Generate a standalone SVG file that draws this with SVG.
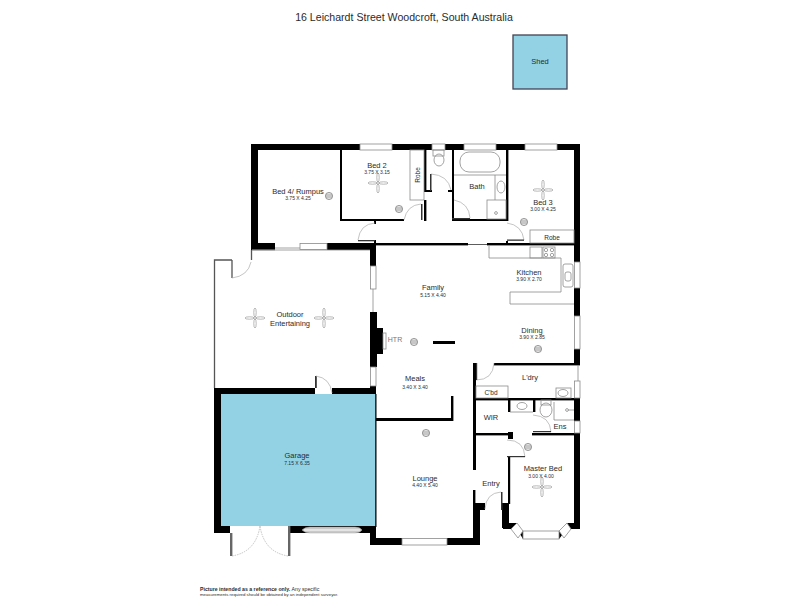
<svg xmlns="http://www.w3.org/2000/svg" width="800" height="600" viewBox="0 0 800 600">
<style>
text{font-family:"Liberation Sans",Arial,sans-serif;fill:#2b2b2b;text-anchor:middle}
.n{font-size:7.5px}.d{font-size:5px}
.w{fill:#000}
.win{fill:#fff;stroke:#8a8a8a;stroke-width:.8}
.l{fill:none;stroke:#8c8c8c;stroke-width:.8}
.th{fill:none;stroke:#555;stroke-width:1.3}
.arc{fill:none;stroke:#aaa;stroke-width:.7}
.leaf{fill:#333}
.blue{fill:#93d2e4}
</style>
<defs>
<g id="fan"><g fill="#fff" stroke="#999" stroke-width=".7"><ellipse cx="-5.5" cy="0" rx="4.5" ry="1.2"/><ellipse cx="5.5" cy="0" rx="4.5" ry="1.2"/><ellipse cx="0" cy="-5.5" rx="1.2" ry="4.5"/><ellipse cx="0" cy="5.5" rx="1.2" ry="4.5"/></g><circle r="1.3" fill="#fff" stroke="#888" stroke-width=".6"/></g>
<g id="light"><circle r="3.6" fill="#e2e2e2" stroke="#777" stroke-width=".7"/><path d="M-3.2-1H3.2M-3.2 1H3.2" stroke="#777" stroke-width=".5"/></g>
</defs>
<rect width="800" height="600" fill="#fff"/>
<text id="title" x="404" y="21" font-size="10.6">16 Leichardt Street Woodcroft, South Australia</text>
<g id="shed"><rect x="513" y="35" width="54" height="54" class="blue" stroke="#445" stroke-width="1.3"/><text x="540" y="64" class="n">Shed</text></g>
<g id="garage"><rect x="221" y="394" width="154.500" height="132" class="blue"/><text x="297" y="458" class="n">Garage</text><text x="297" y="465" class="d">7.15 X 6.35</text></g>
<g id="structure">
<g class="w">
<rect x="251" y="144" width="109" height="6"/><rect x="392" y="144" width="40" height="6"/><rect x="445" y="144" width="19" height="6"/><rect x="496" y="144" width="29" height="6"/><rect x="557" y="144" width="23" height="6"/>
<rect x="251" y="144" width="7" height="106"/><rect x="251" y="243" width="24" height="7"/><rect x="327" y="243" width="49" height="7"/><rect x="370" y="243" width="6" height="23"/>
<rect x="574" y="144" width="6" height="118"/><rect x="574" y="288" width="6" height="28"/><rect x="574" y="349" width="6" height="16"/><rect x="574" y="398" width="6" height="23"/><rect x="574" y="433" width="6" height="96"/>
<rect x="370" y="312" width="7" height="55"/><rect x="376" y="328" width="7" height="26"/>
<rect x="214" y="388" width="101" height="6"/><rect x="332" y="388" width="44" height="6"/><rect x="370" y="386" width="6" height="8"/>
<rect x="214" y="388" width="7" height="145"/><rect x="214" y="526" width="16" height="7"/><rect x="290" y="526" width="86" height="7"/><rect x="375.200" y="394" width="1.300" height="133"/><rect x="370" y="526" width="6" height="19"/>
<rect x="370" y="538" width="32" height="7"/><rect x="447" y="538" width="33" height="7"/><rect x="473" y="503" width="7" height="42"/><rect x="473" y="503" width="12" height="7"/>
<rect x="340" y="150" width="2" height="71"/><rect x="340" y="219" width="64" height="2"/><rect x="374" y="221" width="2" height="3"/><rect x="374" y="240" width="2" height="3"/>
<rect x="424" y="150" width="2.400" height="41"/><rect x="424" y="190" width="8" height="2"/><rect x="424" y="200" width="2.400" height="21"/><rect x="448" y="190" width="4" height="2"/>
<rect x="452" y="150" width="2" height="71"/><rect x="452" y="219" width="56" height="2"/><rect x="506" y="150" width="2.400" height="71"/>
<rect x="370" y="243" width="98" height="2.400"/><rect x="487" y="243" width="89" height="2.400"/><rect x="506" y="241" width="2" height="3"/>
<rect x="433" y="341" width="22" height="3"/><rect x="376" y="418" width="77" height="3"/><rect x="451" y="396" width="2.400" height="25"/>
<rect x="473" y="363" width="3" height="107"/><rect x="473" y="490" width="2.400" height="14"/><rect x="494" y="363" width="86" height="2.400"/>
<rect x="473" y="398" width="103" height="2.400"/><rect x="473" y="433" width="38" height="2.400"/><rect x="508" y="432" width="5" height="7"/><rect x="532" y="433" width="42" height="2.400"/>
<rect x="508" y="400" width="2.400" height="12"/><rect x="533" y="400" width="2.400" height="12"/>
<rect x="508" y="457" width="2.200" height="47"/><rect x="502" y="503" width="7" height="25"/><rect x="503" y="523" width="14" height="6"/><rect x="567" y="523" width="13" height="6"/>
<polygon points="517,529 523,539 523,531"/><polygon points="567,529 559,539 559,531"/>
</g>
<g class="win">
<rect x="360" y="144" width="32" height="6"/><rect x="432" y="144" width="13" height="6"/><rect x="464" y="144" width="32" height="6"/><rect x="525" y="144" width="32" height="6"/>
<rect x="300" y="243.500" width="27" height="6"/><rect x="370.500" y="266" width="5.500" height="23"/><rect x="370.500" y="367" width="5.500" height="19"/>
<rect x="574.500" y="262" width="5.500" height="26"/><rect x="574.500" y="316" width="5.500" height="33"/><rect x="574.500" y="381" width="5.500" height="17"/><rect x="574.500" y="421" width="5.500" height="12"/>
<rect x="402" y="538.500" width="45" height="6.500"/><rect x="523" y="531" width="36" height="8"/>
<polygon points="517,523 523,531 518,538 511,529" fill="#fff"/><polygon points="567,523 559,531 564,538 571,529" fill="#fff"/>
</g>
<path d="M302 530Q305 527 310 527H355Q360 527 362 530Q360 533 355 533H310Q305 533 302 530Z" fill="#c9c9c9" stroke="#aaa" stroke-width=".5"/><path d="M304 530H360" stroke="#fff" stroke-width="1"/>
<path class="th" d="M251.500 250V260M232 260H214.500V388M232 260V278"/>
<path class="l" d="M275 248H300M252 250H275M373 289V312M578 365V381M252 250H370"/>
<rect x="230" y="533" width="2.400" height="23" fill="#666"/><rect x="288" y="526" width="2.400" height="30" fill="#666"/>
<rect x="315" y="376" width="1.800" height="12" fill="#333"/>
<path class="arc" stroke-dasharray="1.500 1" d="M232 556Q256 552 260 526M288 556Q264 552 260 526"/>
<g class="arc"><path d="M232 278Q248 276 251 262M316 376Q330 378 332 393M375 223Q360 224 358 240M421 204Q407 205 404 220M431 174Q448 175 451 190M454 200Q469 203 470 218M507 223Q522 225 524 240M476 380Q493 380 494 363M533 415Q550 416 551 432M507 440Q524 440 525 457M485 509Q486 493 501 492"/></g>
<g class="leaf"><rect x="358" y="240" width="17" height="1.300"/><rect x="421" y="204" width="1.500" height="16"/><rect x="430" y="174" width="1.500" height="17"/><rect x="452" y="218" width="18" height="1.400"/><rect x="507" y="239.500" width="17" height="1.300"/><rect x="476" y="363" width="1.200" height="17"/><rect x="533" y="431" width="18" height="1.200"/><rect x="507" y="456" width="18" height="1.200"/><rect x="501" y="492" width="1.500" height="18"/></g>
<path d="M468 244.500H487" stroke="#333" stroke-width=".8"/>
</g>
<g id="fixtures" class="l">
<rect x="410" y="150" width="14" height="50"/><rect x="530" y="230" width="44" height="13"/>
<rect x="433" y="150" width="11" height="6"/><ellipse cx="439" cy="160" rx="5" ry="6"/>
<path d="M454 175H506M495 175V200"/><rect x="460" y="152" width="40" height="20" rx="9"/><ellipse cx="501" cy="187" rx="4" ry="6"/><rect x="487" y="200" width="19" height="19"/><circle cx="496" cy="213" r="1.400"/>
<path d="M489 246V258H561V292H510V304H574"/><rect x="530" y="247" width="12" height="11"/><rect x="543" y="247" width="12" height="11"/><circle cx="546" cy="250" r="1.700"/><circle cx="552" cy="250" r="1.700"/><circle cx="546" cy="255" r="1.700"/><circle cx="552" cy="255" r="1.700"/><rect x="563" y="264" width="10" height="23" rx="2"/><rect x="565" y="272" width="6" height="9" rx="2"/>
<rect x="383" y="333" width="3" height="16"/>
<rect x="476" y="386" width="32" height="12"/><rect x="556" y="388" width="15" height="10"/><ellipse cx="563" cy="393" rx="5" ry="3.500"/>
<path d="M510 412H533"/><ellipse cx="522" cy="406" rx="5" ry="3.500"/><rect x="541" y="400" width="10" height="5"/><ellipse cx="546" cy="410" rx="6" ry="7"/><path d="M554 402V420H574"/><circle cx="567" cy="410" r="1.400"/><path d="M568 410H574"/>
</g>
<g id="symbols">
<use href="#fan" x="378" y="183"/><use href="#fan" x="543" y="190"/><use href="#fan" x="542" y="487"/><use href="#fan" x="255" y="318"/><use href="#fan" x="324" y="318"/>
<use href="#light" x="329" y="196"/><use href="#light" x="399" y="209"/><use href="#light" x="524" y="222"/><use href="#light" x="414" y="342"/><use href="#light" x="538" y="349"/><use href="#light" x="426" y="433"/><use href="#light" x="528" y="447"/>
</g>
<g id="labels">
<text x="298" y="194" class="n">Bed 4/ Rumpus</text><text x="298" y="200" class="d">3.75 X 4.25</text>
<text x="377" y="168" class="n">Bed 2</text><text x="377" y="174" class="d">3.75 X 3.15</text>
<text transform="translate(420 175) rotate(-90)" font-size="6.500">Robe</text>
<text x="477" y="189" class="n">Bath</text>
<text x="543" y="205" class="n">Bed 3</text><text x="543" y="211" class="d">3.00 X 4.25</text>
<text x="552" y="240" font-size="6.500">Robe</text>
<text x="529" y="275" class="n">Kitchen</text><text x="529" y="281" class="d">3.90 X 2.70</text>
<text x="433" y="290" class="n">Family</text><text x="433" y="297" class="d">5.15 X 4.40</text>
<text x="532" y="333" class="n">Dining</text><text x="532" y="339" class="d">3.90 X 2.85</text>
<text x="395" y="342" font-size="7" style="fill:#777">HTR</text>
<text x="290" y="317" class="n">Outdoor</text><text x="290" y="326" class="n">Entertaining</text>
<text x="415" y="381" class="n">Meals</text><text x="415" y="389" class="d">3.40 X 3.40</text>
<text x="530" y="380" class="n">L'dry</text><text x="491" y="395" font-size="6.500">C'bd</text>
<text x="491" y="420" class="n">WIR</text><text x="560" y="429" class="n">Ens</text>
<text x="425" y="481" class="n">Lounge</text><text x="425" y="487" class="d">4.40 X 5.40</text>
<text x="491" y="486" class="n">Entry</text>
<text x="543" y="471" class="n">Master Bed</text><text x="541" y="478" class="d">3.00 X 4.00</text>
</g>
<g id="footer">
<text x="200" y="591" font-size="5.200" style="text-anchor:start;font-weight:bold">Picture intended as a reference only. <tspan font-weight="normal">Any specific</tspan></text>
<text x="200" y="596" font-size="4.300" style="text-anchor:start">measurements required should be obtained by an independent surveyor.</text>
</g>
</svg>
